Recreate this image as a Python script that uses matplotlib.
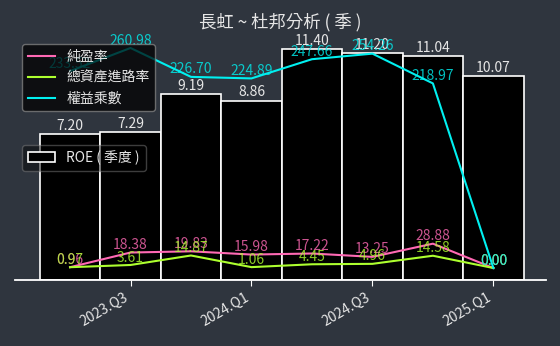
import matplotlib
matplotlib.use("Agg")
import matplotlib.pyplot as plt
from matplotlib.lines import Line2D
from matplotlib.patches import Patch

plt.rcParams['font.family'] = ['Noto Sans CJK TC', 'DejaVu Sans']

# quarterly data, 2023.Q2 .. 2025.Q1
quarters = ["2023.Q2", "2023.Q3", "2023.Q4", "2024.Q1",
            "2024.Q2", "2024.Q3", "2024.Q4", "2025.Q1"]
roe = [7.20, 7.29, 9.19, 8.86, 11.40, 11.20, 11.04, 10.07]
net_margin = [0.96, 18.38, 19.83, 15.98, 17.22, 13.25, 28.88, 0.00]
asset_turnover = [0.97, 3.61, 14.87, 1.06, 4.45, 4.96, 14.58, 0.00]
equity_multiplier = [233.52, 260.98, 226.70, 224.89, 247.66, 254.26, 218.97, 0.00]
tick_idx = [1, 3, 5, 7]

BG = "#2f353e"
TXT = "#e6e6e6"
PINK = "#ff69b4"
GREEN = "#adff2f"
CYAN = "#00f0f0"

fig = plt.figure(figsize=(5.6, 3.46), dpi=100, facecolor=BG)
ax = fig.add_axes([15 / 560, 66 / 346, 531 / 560, 250 / 346])
ax.set_facecolor(BG)

x = list(range(len(quarters)))
ax.bar(x, roe, width=1.0, color="black", edgecolor="white", linewidth=1.2)
for xi, v in zip(x, roe):
    ax.text(xi, v + 0.05, f"{v:.2f}", ha="center", va="bottom",
            color=TXT, fontsize=10)
ax.set_ylim(0, 12.34)
ax.set_xlim(-0.91, 7.87)
ax.set_yticks([])
for s in ("left", "right", "top"):
    ax.spines[s].set_visible(False)
ax.spines["bottom"].set_color("white")
ax.spines["bottom"].set_linewidth(1.3)
ax.set_xticks(tick_idx)
ax.set_xticklabels([quarters[i] for i in tick_idx], rotation=30, ha="right",
                   color=TXT, fontsize=10)
ax.tick_params(axis="x", colors="white", length=4, labelcolor=TXT)

ax2 = ax.twinx()
ax2.set_ylim(-14.2, 282.3)
ax2.set_yticks([])
for s in ("left", "right", "top", "bottom"):
    ax2.spines[s].set_visible(False)

series = [("純盈率", net_margin, PINK),
          ("總資產進路率", asset_turnover, GREEN),
          ("權益乘數", equity_multiplier, CYAN)]
for name, vals, col in series:
    ax2.plot(x, vals, color=col, linewidth=1.5)
for name, vals, col in series:
    for xi, v in zip(x, vals):
        ax2.text(xi, v + 0.5, f"{v:.2f}", ha="center", va="bottom",
                 color=col, alpha=0.8, fontsize=10)

h1 = [Line2D([], [], color=c, linewidth=1.5) for _, _, c in series]
leg1 = ax2.legend(h1, [n for n, _, _ in series], loc="upper left",
                  bbox_to_anchor=(22 / 560, 1 - 44 / 346),
                  bbox_transform=fig.transFigure, borderaxespad=0,
                  facecolor="black", edgecolor="#888888", framealpha=0.72,
                  labelcolor=TXT, fontsize=10)
leg1.get_frame().set_linewidth(1.0)

h2 = [Patch(facecolor="black", edgecolor="white", linewidth=1.2)]
leg2 = ax2.legend(h2, ["ROE ( 季度 )"], loc="upper left",
                  bbox_to_anchor=(22 / 560, 1 - 145 / 346),
                  bbox_transform=fig.transFigure, borderaxespad=0,
                  facecolor="black", edgecolor="#888888", framealpha=0.45,
                  labelcolor=TXT, fontsize=10)
leg2.get_frame().set_linewidth(1.0)
ax2.add_artist(leg1)

fig.text(0.5, 1 - 22 / 346, "長虹 ~ 杜邦分析 ( 季 )", ha="center", va="center",
         color=TXT, fontsize=12.5)

fig.savefig("out.png", dpi=100, facecolor=BG)
